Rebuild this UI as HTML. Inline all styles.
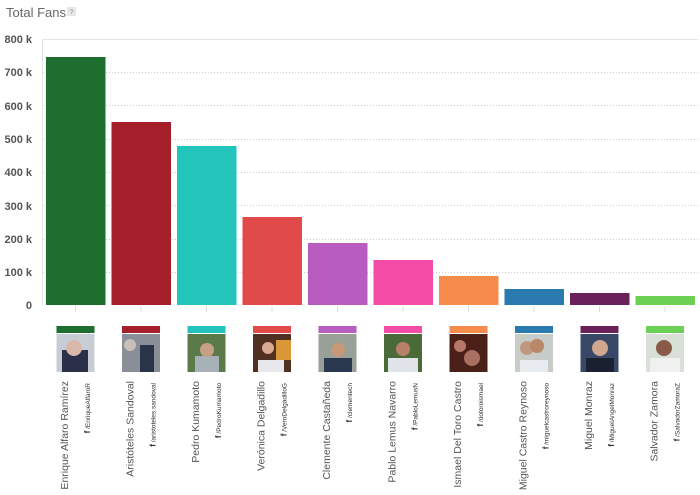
<!DOCTYPE html>
<html><head><meta charset="utf-8"><style>
body{margin:0;background:#fff;}
svg{display:block;font-family:"Liberation Sans",sans-serif;}
</style></head><body>
<svg width="700" height="495" viewBox="0 0 700 495">
<text x="6" y="17" font-size="13" fill="#666">Total Fans</text>
<rect x="67" y="7" width="9" height="9" fill="#e6e6e6"/><text x="71.5" y="14" font-size="6" fill="#888" text-anchor="middle">?</text>
<g stroke="#ccc" stroke-dasharray="1,2" stroke-width="1">
<line x1="43" x2="698" y1="72.5" y2="72.5"/><line x1="43" x2="698" y1="105.5" y2="105.5"/><line x1="43" x2="698" y1="139.5" y2="139.5"/><line x1="43" x2="698" y1="172.5" y2="172.5"/><line x1="43" x2="698" y1="205.5" y2="205.5"/><line x1="43" x2="698" y1="239.5" y2="239.5"/><line x1="43" x2="698" y1="272.5" y2="272.5"/>
</g>
<line x1="43" x2="698" y1="39.5" y2="39.5" stroke="#e4e4e4"/>
<line x1="42.5" x2="42.5" y1="39" y2="305" stroke="#e4e4e4"/>
<g font-size="11" font-weight="bold" fill="#555" text-anchor="end">
<text x="32" y="43">800 k</text><text x="32" y="76">700 k</text><text x="32" y="110">600 k</text><text x="32" y="143">500 k</text><text x="32" y="176">400 k</text><text x="32" y="210">300 k</text><text x="32" y="243">200 k</text><text x="32" y="276">100 k</text><text x="32" y="309">0</text>
</g>
<g stroke="#ddd">
<line x1="75.5" x2="75.5" y1="306" y2="312"/><line x1="141" x2="141" y1="306" y2="312"/><line x1="206.5" x2="206.5" y1="306" y2="312"/><line x1="272" x2="272" y1="306" y2="312"/><line x1="337.5" x2="337.5" y1="306" y2="312"/><line x1="403" x2="403" y1="306" y2="312"/><line x1="468.5" x2="468.5" y1="306" y2="312"/><line x1="534" x2="534" y1="306" y2="312"/><line x1="599.5" x2="599.5" y1="306" y2="312"/><line x1="665" x2="665" y1="306" y2="312"/>
</g>
<g>
<rect x="46" y="57" width="59.5" height="248" fill="#1e6e30"/>
<rect x="111.5" y="122" width="59.5" height="183" fill="#a51f2a"/>
<rect x="177" y="146" width="59.5" height="159" fill="#22c4bc"/>
<rect x="242.5" y="217" width="59.5" height="88" fill="#e04a48"/>
<rect x="308" y="243" width="59.5" height="62" fill="#b85cc0"/>
<rect x="373.5" y="260" width="59.5" height="45" fill="#f54ca8"/>
<rect x="439" y="276" width="59.5" height="29" fill="#f58c4c"/>
<rect x="504.5" y="289" width="59.5" height="16" fill="#2a7ab0"/>
<rect x="570" y="293" width="59.5" height="12" fill="#6a2058"/>
<rect x="635.5" y="296" width="59.5" height="9" fill="#6cd055"/>
</g>
<g font-size="10.5" fill="#555">
<rect x="56.5" y="326" width="38" height="7" fill="#1e6e30"/><rect x="56.5" y="334" width="38" height="38" fill="#c8ccd4"/><rect x="62" y="350" width="26" height="22" fill="#2a3048"/><circle cx="74" cy="348" r="8" fill="#d8b8a8"/>
<text transform="translate(68,381) rotate(-90)" text-anchor="end">Enrique Alfaro Ramírez</text>
<text transform="translate(90,383) rotate(-90)" text-anchor="end" font-size="6.5" fill="#333"><tspan font-weight="bold" font-size="8">f</tspan> /EnriqueAlfaroR</text>

<rect x="122" y="326" width="38" height="7" fill="#a51f2a"/><rect x="122" y="334" width="38" height="38" fill="#8a8e96"/><rect x="140" y="345" width="14" height="27" fill="#2a3448"/><circle cx="130" cy="345" r="6" fill="#c8c0b8"/>
<text transform="translate(133.5,381) rotate(-90)" text-anchor="end">Aristóteles Sandoval</text>
<text transform="translate(155.5,383) rotate(-90)" text-anchor="end" font-size="6.5" fill="#333"><tspan font-weight="bold" font-size="8">f</tspan> /aristoteles.sandoval</text>

<rect x="187.5" y="326" width="38" height="7" fill="#22c4bc"/><rect x="187.5" y="334" width="38" height="38" fill="#5a7a48"/><rect x="195" y="356" width="24" height="16" fill="#a8b0b8"/><circle cx="207" cy="350" r="7" fill="#c8a088"/>
<text transform="translate(199,381) rotate(-90)" text-anchor="end">Pedro Kumamoto</text>
<text transform="translate(221,383) rotate(-90)" text-anchor="end" font-size="6.5" fill="#333"><tspan font-weight="bold" font-size="8">f</tspan> /PedroKumamoto</text>

<rect x="253" y="326" width="38" height="7" fill="#e04a48"/><rect x="253" y="334" width="38" height="38" fill="#503020"/><rect x="276" y="340" width="15" height="20" fill="#d89838"/><rect x="258" y="360" width="26" height="12" fill="#e8e8ec"/><circle cx="268" cy="348" r="6" fill="#d8a890"/>
<text transform="translate(264.5,381) rotate(-90)" text-anchor="end">Verónica Delgadillo</text>
<text transform="translate(286.5,383) rotate(-90)" text-anchor="end" font-size="6.5" fill="#333"><tspan font-weight="bold" font-size="8">f</tspan> /VeroDelgadilloG</text>

<rect x="318.5" y="326" width="38" height="7" fill="#b85cc0"/><rect x="318.5" y="334" width="38" height="38" fill="#98a098"/><rect x="324" y="358" width="28" height="14" fill="#2a3850"/><circle cx="338" cy="350" r="7" fill="#c89878"/>
<text transform="translate(330,381) rotate(-90)" text-anchor="end">Clemente Castañeda</text>
<text transform="translate(352,383) rotate(-90)" text-anchor="end" font-size="6.5" fill="#333"><tspan font-weight="bold" font-size="8">f</tspan> /clementech</text>

<rect x="384" y="326" width="38" height="7" fill="#f54ca8"/><rect x="384" y="334" width="38" height="38" fill="#4a6a38"/><rect x="388" y="358" width="30" height="14" fill="#e0e4e8"/><circle cx="403" cy="349" r="7" fill="#b88068"/>
<text transform="translate(395.5,381) rotate(-90)" text-anchor="end">Pablo Lemus Navarro</text>
<text transform="translate(417.5,383) rotate(-90)" text-anchor="end" font-size="6.5" fill="#333"><tspan font-weight="bold" font-size="8">f</tspan> /PabloLemusN</text>

<rect x="449.5" y="326" width="38" height="7" fill="#f58c4c"/><rect x="449.5" y="334" width="38" height="38" fill="#4a2018"/><circle cx="460" cy="346" r="6" fill="#b87868"/><circle cx="472" cy="358" r="8" fill="#a87060"/>
<text transform="translate(461,381) rotate(-90)" text-anchor="end">Ismael Del Toro Castro</text>
<text transform="translate(483,383) rotate(-90)" text-anchor="end" font-size="6.5" fill="#333"><tspan font-weight="bold" font-size="8">f</tspan> /dotoroismael</text>

<rect x="515" y="326" width="38" height="7" fill="#2a7ab0"/><rect x="515" y="334" width="38" height="38" fill="#c8ccc8"/><circle cx="527" cy="348" r="7" fill="#c09880"/><circle cx="537" cy="346" r="7" fill="#b88868"/><rect x="520" y="360" width="28" height="12" fill="#e8ecf0"/>
<text transform="translate(526.5,381) rotate(-90)" text-anchor="end">Miguel Castro Reynoso</text>
<text transform="translate(548.5,383) rotate(-90)" text-anchor="end" font-size="6.5" fill="#333"><tspan font-weight="bold" font-size="8">f</tspan> /miguelcastroreynoso</text>

<rect x="580.5" y="326" width="38" height="7" fill="#6a2058"/><rect x="580.5" y="334" width="38" height="38" fill="#3a4868"/><rect x="586" y="358" width="28" height="14" fill="#1a2030"/><circle cx="600" cy="348" r="8" fill="#d0a890"/>
<text transform="translate(592,381) rotate(-90)" text-anchor="end">Miguel Monraz</text>
<text transform="translate(614,383) rotate(-90)" text-anchor="end" font-size="6.5" fill="#333"><tspan font-weight="bold" font-size="8">f</tspan> /MiguelAngelMonraz</text>

<rect x="646" y="326" width="38" height="7" fill="#6cd055"/><rect x="646" y="334" width="38" height="38" fill="#d8e0d8"/><rect x="650" y="358" width="30" height="14" fill="#f0f0f0"/><circle cx="664" cy="348" r="8" fill="#8a5a48"/>
<text transform="translate(657.5,381) rotate(-90)" text-anchor="end">Salvador Zamora</text>
<text transform="translate(679.5,383) rotate(-90)" text-anchor="end" font-size="6.5" fill="#333"><tspan font-weight="bold" font-size="8">f</tspan> /SalvadorZamoraZ</text>
</g>
</svg>
</body></html>
